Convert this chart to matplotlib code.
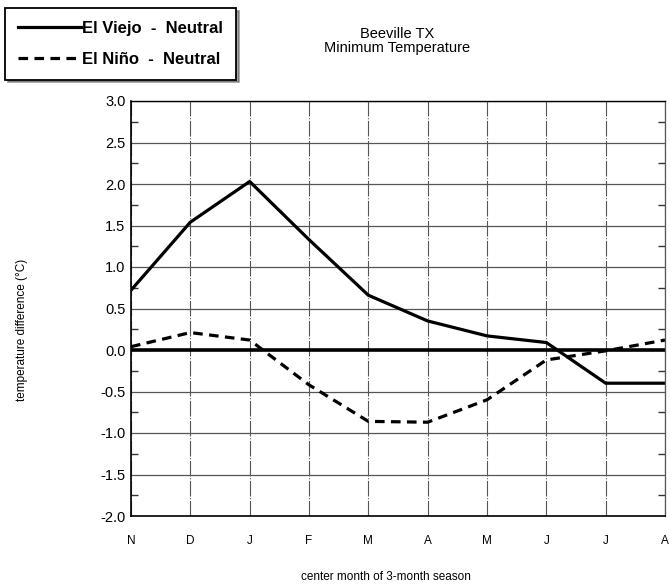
import matplotlib
matplotlib.use("Agg")
import matplotlib.pyplot as plt
from matplotlib.ticker import FixedLocator

plt.rcParams['font.family'] = ['Liberation Sans', 'DejaVu Sans']

months = ["N", "D", "J", "F", "M", "A", "M", "J", "J", "A"]
el_viejo = [0.72, 1.54, 2.03, 1.33, 0.66, 0.35, 0.17, 0.09, -0.40, -0.40]
el_nino = [0.04, 0.21, 0.12, -0.42, -0.86, -0.87, -0.60, -0.12, -0.01, 0.12]
yticks = [3.0, 2.5, 2.0, 1.5, 1.0, 0.5, 0.0, -0.5, -1.0, -1.5, -2.0]

fig = plt.figure(figsize=(6.70, 5.86), dpi=100)
ax = fig.add_axes([131 / 670, 1 - 516 / 586, 534 / 670, 415 / 586])

x = list(range(len(months)))
l1, = ax.plot(x, el_viejo, color="black", lw=2.3, solid_joinstyle="miter")
l2, = ax.plot(x, el_nino, color="black", lw=2.3, linestyle=(0, (3, 2)))
ax.axhline(0, color="black", lw=2.6, zorder=1.5)

ax.set_xlim(0, len(months) - 1)
ax.set_ylim(-2.0, 3.0)
ax.set_xticks(x)
ax.set_xticklabels(months, fontsize=8.5)
ax.set_yticks(yticks)
ax.set_yticklabels([f"{v:.1f}" for v in yticks], fontsize=10.5)
ax.yaxis.set_minor_locator(FixedLocator([v + 0.25 for v in yticks[1:]]))

ax.tick_params(axis="x", length=0, pad=14)
ax.tick_params(axis="y", which="major", length=0, pad=4)
ax.tick_params(axis="y", which="minor", length=5, width=1, direction="in",
               left=True, right=True, color="#333333")

ax.grid(True, axis="y", which="major", color="#555555", lw=0.9, linestyle="-")
ax.grid(True, axis="x", which="major", color="#555555", lw=0.8,
        linestyle=(0, (14, 1.5, 1, 1.5)))
ax.set_axisbelow(True)

for side in ["left", "bottom"]:
    ax.spines[side].set_linewidth(1.2)
ax.spines["top"].set_linewidth(1.0)
ax.spines["right"].set_linewidth(0.9)
ax.spines["right"].set_color("#555555")

fig.text(22 / 670, 1 - 330 / 586, "temperature difference (°C)",
         rotation=90, ha="center", va="center", fontsize=8.5)
fig.text(386 / 670, 1 - 577 / 586, "center month of 3-month season",
         ha="center", va="center", fontsize=8.5)
fig.text(397 / 670, 1 - 41 / 586, "Beeville TX\nMinimum Temperature",
         ha="center", va="center", fontsize=10.5, linespacing=1.05)

leg = fig.legend([l1, l2], ["El Viejo  -  Neutral", "El Niño  -  Neutral"],
                 loc="upper left", bbox_to_anchor=(5 / 670, 1 - 8 / 586),
                 frameon=True, fancybox=False, shadow=True,
                 edgecolor="black", handlelength=3.8, handletextpad=0.1,
                 borderpad=0.75, labelspacing=1.0, borderaxespad=0,
                 prop={"size": 12, "weight": "bold"})
leg.get_frame().set_linewidth(1.3)

fig.savefig("out.png", dpi=100)
